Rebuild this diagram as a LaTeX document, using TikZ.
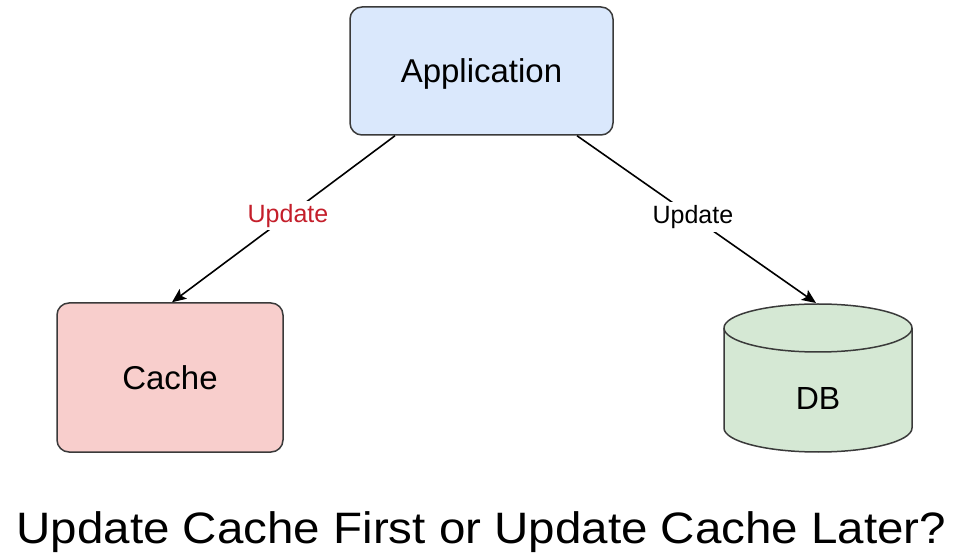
\documentclass[tikz,border=0pt]{standalone}
\usepackage{fontspec}
\setmainfont{Liberation Sans}
\usetikzlibrary{arrows.meta}
\definecolor{appfill}{HTML}{DAE8FC}
\definecolor{cachefill}{HTML}{F8CECC}
\definecolor{dbfill}{HTML}{D5E8D4}
\definecolor{edge}{HTML}{3A3A3A}
\definecolor{redlabel}{HTML}{C41E2A}
\tikzset{
  box/.style={draw=edge, line width=1.5pt, rounded corners=12pt, align=center},
  conn/.style={draw=black, line width=1.6pt, -{Stealth[length=14pt,width=12pt,inset=3pt]}},
  lbl/.style={fill=white, inner sep=3pt, font=\fontsize{25}{30}\selectfont}
}
\begin{document}
\begin{tikzpicture}[x=1pt,y=1pt]
\useasboundingbox[fill=white] (0,0) rectangle (958,557);
% Application
\node[box, fill=appfill, minimum width=263pt, minimum height=128pt] (app) at (481.5,486) {};
\node[font=\fontsize{33}{40}\selectfont] (apptext) at ([yshift=-3pt]app.center) {Application};
% Cache
\node[box, fill=cachefill, minimum width=226pt, minimum height=149pt,
      font=\fontsize{33}{40}\selectfont] (cache) at (170,179.5) {Cache};
% DB cylinder
\filldraw[fill=dbfill, draw=edge, line width=1.5pt]
  (724,229) -- (724,129) arc[start angle=180, end angle=360, x radius=94, y radius=24]
  -- (912,229) arc[start angle=0, end angle=180, x radius=94, y radius=24] -- cycle;
\draw[draw=edge, line width=1.5pt]
  (724,229) arc[start angle=180, end angle=360, x radius=94, y radius=24];
\node[font=\fontsize{32}{38}\selectfont] (db) at (818,159) {DB};
\coordinate (dbtop) at (816,254);
% connectors
\draw[conn] ([xshift=-86.5pt]app.south) -- node[lbl, text=redlabel, pos=0.48] {Update} ([xshift=2pt]cache.north);
\draw[conn] ([xshift=95.5pt]app.south) -- node[lbl, text=black, pos=0.485] {Update} (dbtop);
% title
\node[anchor=base, inner sep=0pt, font=\fontsize{44}{52}\selectfont, xscale=1.08] (title) at (481.5,14) {Update Cache First or Update Cache Later?};
\end{tikzpicture}
\end{document}
